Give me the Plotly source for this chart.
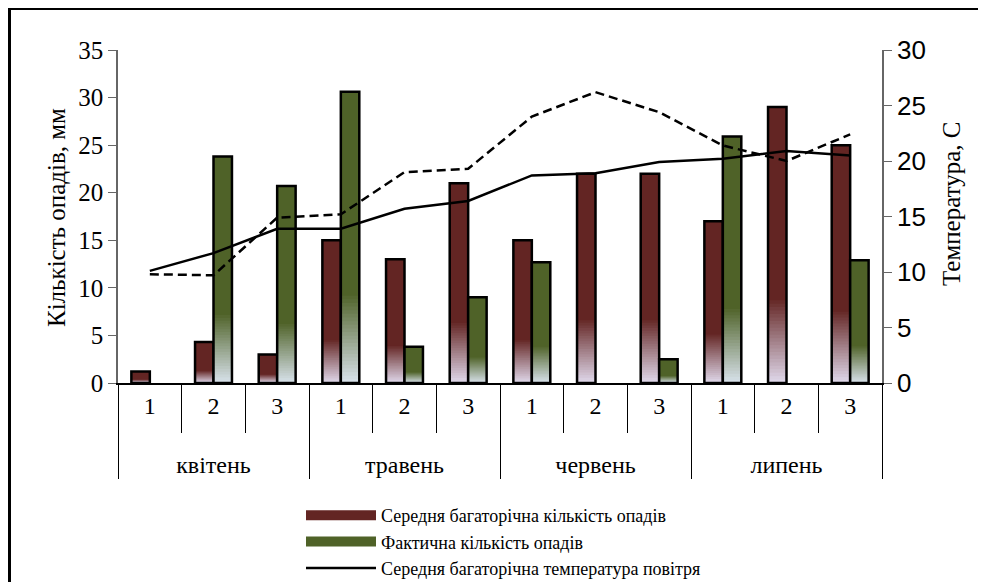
import plotly.graph_objects as go

# ---------------- data ----------------
months = ["квітень", "травень", "червень", "липень"]
decades = ["1", "2", "3"]
norm_precip = [1.2, 4.3, 3.0, 15.0, 13.0, 21.0, 15.0, 22.0, 22.0, 17.0, 29.0, 25.0]
fact_precip = [0, 23.8, 20.7, 30.6, 3.8, 9.0, 12.7, 0, 2.5, 25.9, 0, 12.9]
norm_temp = [10.1, 11.7, 13.9, 13.9, 15.7, 16.4, 18.7, 18.9, 19.9, 20.2, 20.9, 20.5]
fact_temp = [9.8, 9.7, 14.9, 15.2, 19.0, 19.3, 24.0, 26.2, 24.4, 21.4, 20.0, 22.4]

names = ["Середня багаторічна кількість опадів",
         "Фактична кількість опадів",
         "Середня багаторічна температура повітря",
         "Фактична температура повітря"]

# ---------------- layout constants (page pixels; page has 8px body margin) ----------------
W, H = 986, 582
OFF = 8
PL, PT, PR, PB = 118, 50, 882, 383          # plot area on the page
PW, PH = PR - PL, PB - PT
L, T = PL - OFF, PT - OFF
R, B = W - L - PW, H - T - PH

def px_x(p):
    return (p - PL) / PW

def px_y(p):
    return (PB - p) / PH

# inner labels get an empty second line so the month row sits lower
x = [[m for m in months for _ in decades],
     [d + "<br>\u00a0" for _ in months for d in decades]]
ncat = len(months) * len(decades)

SERIF = "Liberation Serif"
SANS = "Liberation Sans"

RED = (99, 37, 35)
RED_LIGHT = (222, 214, 232)
GREEN = (79, 98, 40)
GREEN_LIGHT = (214, 224, 232)

def mix(c1, c2, t):
    return "rgb(%d,%d,%d)" % tuple(round(a + (b - a) * t) for a, b in zip(c1, c2))

BW = 0.29
NSTEP = 24
FADE = 0.3

fig = go.Figure()

def add_bar_series(vals, dark, light, offset):
    fig.add_trace(go.Bar(
        x=x, y=vals, offset=offset, width=BW,
        marker=dict(color=mix(dark, dark, 0), line=dict(width=0)),
        showlegend=False, hoverinfo="skip"))
    for k in range(1, NSTEP + 1):
        t = k / NSTEP
        fig.add_trace(go.Bar(
            x=x, y=[v * FADE * (1 - (k - 1) / NSTEP) for v in vals],
            offset=offset, width=BW,
            marker=dict(color=mix(dark, light, t), line=dict(width=0)),
            showlegend=False, hoverinfo="skip"))
    fig.add_trace(go.Bar(
        x=x, y=[v if v > 0 else None for v in vals],
        offset=offset, width=BW,
        marker=dict(color="rgba(0,0,0,0)", line=dict(color="black", width=2.5)),
        showlegend=False))

add_bar_series(norm_precip, RED, RED_LIGHT, -BW)
add_bar_series(fact_precip, GREEN, GREEN_LIGHT, 0)

fig.add_trace(go.Scatter(x=x, y=[None] * ncat, mode="lines", name=names[0],
                         line=dict(color=mix(RED, RED, 0), width=10)))
fig.add_trace(go.Scatter(x=x, y=[None] * ncat, mode="lines", name=names[1],
                         line=dict(color=mix(GREEN, GREEN, 0), width=10)))

fig.add_trace(go.Scatter(x=x, y=norm_temp, yaxis="y2", mode="lines", name=names[2],
                         line=dict(color="black", width=2.5)))
fig.add_trace(go.Scatter(x=x, y=fact_temp, yaxis="y2", mode="lines", name=names[3],
                         line=dict(color="black", width=2.5, dash="9px,5px"),
                         showlegend=False))

AX = "#666666"
fig.update_layout(
    template="none",
    width=W, height=H, autosize=False,
    margin=dict(l=L, r=R, t=T, b=B, pad=0, autoexpand=False),
    paper_bgcolor="white", plot_bgcolor="white",
    barmode="overlay",
    font=dict(family=SERIF, color="black"),
    xaxis=dict(type="multicategory", showline=True, linecolor="black", linewidth=1.5,
               ticks="outside", ticklen=48, tickcolor="black", tickwidth=1,
               showdividers=True, dividercolor="black", dividerwidth=1,
               tickfont=dict(family=SERIF, size=24, color="black"),
               showgrid=False, automargin=False),
    xaxis2=dict(overlaying="x", range=[-0.5, ncat - 0.5],
                tickvals=[i + 0.5 for i in range(-1, ncat)],
                ticks="inside", ticklen=8, tickcolor="black", tickwidth=1,
                showticklabels=False, showgrid=False, zeroline=False, showline=False,
                automargin=False),
    yaxis=dict(range=[0, 35], dtick=5, ticks="outside", ticklen=8, tickcolor=AX,
               showline=True, linecolor=AX, linewidth=1.5, showgrid=False, zeroline=False,
               tickfont=dict(family=SERIF, size=25, color="black"), automargin=False),
    yaxis3=dict(overlaying="y", range=[0, 35], dtick=5, ticks="inside", ticklen=8,
                tickcolor=AX, showticklabels=False, showgrid=False, zeroline=False,
                showline=False, automargin=False),
    yaxis2=dict(overlaying="y", side="right", range=[0, 30], dtick=5, ticks="outside",
                ticklen=8, tickcolor=AX, showline=True, linecolor=AX, linewidth=1.5,
                showgrid=False, zeroline=False,
                tickfont=dict(family=SANS, size=26, color="black"), automargin=False),
    yaxis4=dict(overlaying="y", side="right", range=[0, 30], dtick=5, ticks="inside",
                ticklen=8, tickcolor=AX, showticklabels=False, showgrid=False,
                zeroline=False, showline=False, automargin=False),
    legend=dict(x=px_x(301), y=px_y(497), xanchor="left", yanchor="top",
                font=dict(family=SERIF, size=18, color="black"),
                bgcolor="rgba(0,0,0,0)", itemwidth=70, tracegroupgap=0),
    annotations=[
        dict(text="Кількість опадів, мм", x=px_x(57), y=px_y(218), xref="paper",
             yref="paper", textangle=-90, showarrow=False, xanchor="center",
             yanchor="middle", font=dict(family=SERIF, size=25, color="black")),
        dict(text="Температура, С", x=px_x(951), y=px_y(204), xref="paper",
             yref="paper", textangle=-90, showarrow=False, xanchor="center",
             yanchor="middle", font=dict(family=SERIF, size=25, color="black")),
    ],
    shapes=[dict(type="rect", xref="paper", yref="paper",
                 x0=px_x(9.5), x1=px_x(1010), y0=px_y(620), y1=px_y(8.5),
                 line=dict(color="black", width=3), fillcolor="rgba(0,0,0,0)",
                 layer="above")],
)

fig.write_html("out.html")
